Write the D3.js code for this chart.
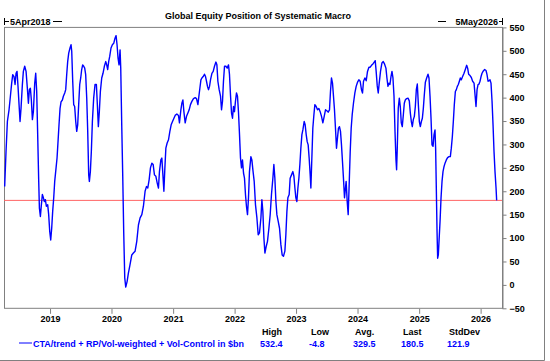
<!DOCTYPE html>
<html>
<head>
<meta charset="utf-8">
<script src="https://cdn.jsdelivr.net/npm/d3@7"></script>
<style>
body { margin: 0; background: #fff; }
text { font-family: "Liberation Sans", Arial, sans-serif; font-weight: bold; font-size: 9px; }
</style>
</head>
<body>
<div id="chart"></div>
<script>
var title = "Global Equity Position of Systematic Macro";
var startLabel = "5Apr2018", endLabel = "5May2026";
var seriesName = "CTA/trend + RP/Vol-weighted + Vol-Control in $bn";
var yTicks = [-50, 0, 50, 100, 150, 200, 250, 300, 350, 400, 450, 500, 550];
var xTickYears = [2019, 2020, 2021, 2022, 2023, 2024, 2025, 2026];
var statNames = ["High", "Low", "Avg.", "Last", "StdDev"];
var statValues = ["532.4", "-4.8", "329.5", "180.5", "121.9"];
var lastValue = 180.5;

// [decimal year, $bn]
var positionSeries = [
  [2018.262,210],[2018.284,285],[2018.306,349],[2018.333,374],[2018.349,395],[2018.376,431],[2018.393,449],[2018.414,445],
  [2018.431,428],[2018.447,452],[2018.463,456],[2018.479,424],[2018.496,385],[2018.512,349],[2018.528,377],[2018.550,428],
  [2018.566,456],[2018.588,467],[2018.610,456],[2018.631,420],[2018.648,388],[2018.664,417],[2018.680,420],[2018.696,395],
  [2018.713,353],[2018.729,370],[2018.751,431],[2018.767,452],[2018.783,413],[2018.799,321],[2018.816,221],[2018.827,164],
  [2018.843,146],[2018.859,171],[2018.875,193],[2018.892,186],[2018.908,178],[2018.924,182],[2018.940,168],[2018.962,171],
  [2018.978,150],[2018.995,114],[2019.011,96],[2019.027,121],[2019.043,157],[2019.060,186],[2019.076,221],[2019.098,250],
  [2019.114,271],[2019.130,306],[2019.146,342],[2019.163,377],[2019.179,391],[2019.201,395],[2019.217,403],[2019.239,410],
  [2019.255,417],[2019.271,449],[2019.287,477],[2019.304,495],[2019.325,506],[2019.342,513],[2019.353,499],[2019.369,435],
  [2019.385,385],[2019.401,381],[2019.418,349],[2019.434,328],[2019.450,342],[2019.466,385],[2019.483,428],[2019.499,442],
  [2019.515,460],[2019.531,470],[2019.548,467],[2019.564,463],[2019.580,449],[2019.597,399],[2019.613,328],[2019.629,235],
  [2019.640,221],[2019.656,242],[2019.672,285],[2019.689,349],[2019.710,399],[2019.732,428],[2019.754,428],[2019.770,385],
  [2019.786,338],[2019.802,370],[2019.819,413],[2019.841,442],[2019.862,452],[2019.884,467],[2019.906,477],[2019.922,470],
  [2019.938,460],[2019.954,477],[2019.971,488],[2019.992,506],[2020.014,513],[2020.036,516],[2020.057,527],[2020.074,532.4],
  [2020.090,513],[2020.106,485],[2020.122,470],[2020.139,502],[2020.150,463],[2020.166,342],[2020.182,235],[2020.198,114],
  [2020.215,15],[2020.231,-4.8],[2020.253,7],[2020.274,25],[2020.296,40],[2020.310,50],[2020.329,64],[2020.355,68],
  [2020.383,72],[2020.410,93],[2020.437,128],[2020.464,143],[2020.492,150],[2020.518,168],[2020.545,200],[2020.567,210],
  [2020.589,207],[2020.611,225],[2020.632,250],[2020.655,260],[2020.676,257],[2020.697,235],[2020.720,232],[2020.741,218],
  [2020.762,207],[2020.778,242],[2020.801,267],[2020.817,271],[2020.834,235],[2020.850,200],[2020.866,250],[2020.882,292],
  [2020.903,303],[2020.925,310],[2020.947,328],[2020.968,342],[2020.990,349],[2021.013,356],[2021.033,362],[2021.061,365],
  [2021.087,362],[2021.103,346],[2021.126,374],[2021.142,388],[2021.159,395],[2021.175,370],[2021.196,346],[2021.218,360],
  [2021.240,367],[2021.261,374],[2021.282,385],[2021.305,392],[2021.331,398],[2021.359,400],[2021.380,398],[2021.403,385],
  [2021.419,403],[2021.435,420],[2021.452,438],[2021.468,442],[2021.489,445],[2021.510,450],[2021.527,445],[2021.543,435],
  [2021.559,424],[2021.575,417],[2021.592,424],[2021.608,438],[2021.631,452],[2021.652,456],[2021.673,467],[2021.696,476],
  [2021.712,470],[2021.728,435],[2021.749,417],[2021.771,403],[2021.787,374],[2021.803,392],[2021.819,435],[2021.836,467],
  [2021.858,467],[2021.880,463],[2021.901,470],[2021.917,449],[2021.933,406],[2021.950,367],[2021.966,356],[2021.982,381],
  [2021.998,370],[2022.014,392],[2022.031,410],[2022.047,403],[2022.063,370],[2022.080,321],[2022.096,271],[2022.112,250],
  [2022.128,267],[2022.145,239],[2022.161,228],[2022.177,193],[2022.193,168],[2022.210,150],[2022.226,186],[2022.242,242],
  [2022.265,274],[2022.281,267],[2022.298,245],[2022.319,221],[2022.340,171],[2022.363,143],[2022.384,107],[2022.405,111],
  [2022.428,143],[2022.444,182],[2022.460,157],[2022.477,100],[2022.493,68],[2022.514,82],[2022.535,93],[2022.558,121],
  [2022.579,150],[2022.600,193],[2022.623,228],[2022.639,257],[2022.655,228],[2022.672,178],[2022.688,150],[2022.709,136],
  [2022.731,121],[2022.753,86],[2022.774,64],[2022.795,61],[2022.818,72],[2022.834,107],[2022.851,157],[2022.867,186],
  [2022.888,193],[2022.904,228],[2022.926,235],[2022.948,242],[2022.965,232],[2022.981,207],[2022.997,186],[2023.013,178],
  [2023.030,207],[2023.046,228],[2023.062,257],[2023.078,292],[2023.095,321],[2023.111,331],[2023.132,349],[2023.148,342],
  [2023.165,321],[2023.181,306],[2023.197,299],[2023.213,271],[2023.230,235],[2023.241,207],[2023.257,271],[2023.273,335],
  [2023.290,363],[2023.306,385],[2023.327,381],[2023.349,374],[2023.371,377],[2023.392,370],[2023.414,360],[2023.436,346],
  [2023.458,360],[2023.479,374],[2023.501,372],[2023.522,369],[2023.544,374],[2023.560,413],[2023.576,442],[2023.593,431],
  [2023.609,403],[2023.625,374],[2023.641,335],[2023.658,292],[2023.674,314],[2023.690,335],[2023.706,338],[2023.723,328],
  [2023.739,299],[2023.755,264],[2023.771,228],[2023.788,186],[2023.804,207],[2023.815,221],[2023.832,178],[2023.848,150],
  [2023.864,214],[2023.881,285],[2023.897,335],[2023.913,363],[2023.934,388],[2023.957,410],[2023.978,424],[2024.000,433],
  [2024.022,438],[2024.043,435],[2024.064,417],[2024.081,410],[2024.097,435],[2024.120,442],[2024.141,436],[2024.162,456],
  [2024.185,465],[2024.206,465],[2024.227,469],[2024.250,472],[2024.271,476],[2024.287,479],[2024.303,455],[2024.320,425],
  [2024.336,410],[2024.352,431],[2024.373,456],[2024.396,474],[2024.417,477],[2024.438,472],[2024.461,463],[2024.477,442],
  [2024.494,424],[2024.510,431],[2024.526,428],[2024.543,445],[2024.559,456],[2024.575,442],[2024.592,403],[2024.608,328],
  [2024.624,267],[2024.634,246],[2024.645,292],[2024.661,377],[2024.678,399],[2024.694,381],[2024.710,346],[2024.726,338],
  [2024.743,363],[2024.759,388],[2024.775,395],[2024.796,398],[2024.819,399],[2024.840,393],[2024.857,367],[2024.873,349],
  [2024.889,338],[2024.905,353],[2024.922,360],[2024.938,381],[2024.954,417],[2024.970,429],[2024.987,385],[2025.003,349],
  [2025.019,338],[2025.036,349],[2025.052,356],[2025.068,377],[2025.084,406],[2025.101,433],[2025.122,442],[2025.144,450],
  [2025.160,442],[2025.177,403],[2025.193,356],[2025.209,299],[2025.226,296],[2025.242,321],[2025.258,331],[2025.268,292],
  [2025.280,200],[2025.291,114],[2025.301,57],[2025.312,64],[2025.323,93],[2025.340,136],[2025.356,186],[2025.372,221],
  [2025.388,242],[2025.405,253],[2025.421,260],[2025.442,267],[2025.463,272],[2025.486,274],[2025.507,274],[2025.523,292],
  [2025.540,317],[2025.556,349],[2025.572,385],[2025.589,413],[2025.605,417],[2025.621,424],[2025.637,428],[2025.654,435],
  [2025.670,442],[2025.686,438],[2025.707,445],[2025.730,452],[2025.751,460],[2025.773,469],[2025.789,463],[2025.805,450],
  [2025.828,447],[2025.849,443],[2025.870,435],[2025.893,431],[2025.909,406],[2025.925,381],[2025.942,417],[2025.958,428],
  [2025.974,429],[2025.990,435],[2026.007,445],[2026.023,452],[2026.044,457],[2026.066,460],[2026.088,458],[2026.104,449],
  [2026.121,435],[2026.137,436],[2026.153,438],[2026.169,431],[2026.186,392],[2026.202,342],[2026.218,285],[2026.234,242],
  [2026.251,207],[2026.261,180.5]
];

function yearToDate(yv) {
  var yr = Math.floor(yv);
  var a = new Date(yr, 0, 1), b = new Date(yr + 1, 0, 1);
  return new Date(a.getTime() + (yv - yr) * (b - a));
}

var width = 550, height = 361;
var plotL = 4, plotR = 502, plotT = 27.4, plotB = 308.3;

var svg = d3.select('#chart').append('svg')
  .attr('width', width)
  .attr('height', height)
  .style('display', 'block');

var x = d3.scaleTime()
  .domain([new Date(2018, 3, 5), new Date(2026, 4, 5)])
  .range([plotL + 0.4, plotR - 0.5]);
var y = d3.scaleLinear()
  .domain([yTicks[0], yTicks[yTicks.length - 1]])
  .range([plotB, plotT]);

// outer frame edges (right + bottom)
svg.append('line').attr('x1', 544.5).attr('x2', 544.5).attr('y1', 0).attr('y2', 360.5)
  .attr('stroke', '#808080');
svg.append('line').attr('x1', 0).attr('x2', 544.5).attr('y1', 360.5).attr('y2', 360.5)
  .attr('stroke', '#808080');

// plot box
svg.append('rect')
  .attr('x', plotL + 0.5).attr('y', plotT)
  .attr('width', plotR - plotL).attr('height', plotB - plotT)
  .attr('fill', 'none').attr('stroke', '#808080');

// right axis
var yAxis = svg.append('g')
  .attr('transform', 'translate(' + (plotR + 0.5) + ',0)')
  .call(d3.axisRight(y).tickValues(yTicks).tickSize(4).tickSizeOuter(0).tickPadding(3));
yAxis.select('.domain').attr('stroke', '#808080');
yAxis.selectAll('.tick line').attr('stroke', '#808080');
yAxis.selectAll('text').attr('fill', '#000').attr('font-size', 9)
  .attr('font-family', '"Liberation Sans", Arial, sans-serif');

// bottom axis
var xAxis = svg.append('g')
  .attr('transform', 'translate(0,' + (plotB + 0.5) + ')')
  .call(d3.axisBottom(x)
    .tickValues(xTickYears.map(function(d) { return new Date(d, 0, 1); }))
    .tickFormat(d3.timeFormat('%Y'))
    .tickSize(5).tickSizeOuter(0).tickPadding(2));
xAxis.select('.domain').remove();
xAxis.selectAll('.tick line').attr('stroke', '#808080');
xAxis.selectAll('text').attr('fill', '#000').attr('font-size', 9)
  .attr('font-family', '"Liberation Sans", Arial, sans-serif');

// last value line
svg.append('line')
  .attr('x1', plotL).attr('x2', plotR)
  .attr('y1', y(lastValue)).attr('y2', y(lastValue))
  .attr('stroke', '#ff6464').attr('stroke-width', 1);

// series
var line = d3.line()
  .x(function(d) { return x(yearToDate(d[0])); })
  .y(function(d) { return y(d[1]); });
svg.append('path')
  .datum(positionSeries)
  .attr('d', line)
  .attr('fill', 'none')
  .attr('stroke', '#0000ff')
  .attr('stroke-width', 1.4)
  .attr('stroke-linejoin', 'round');

// title + date range
svg.append('text').attr('x', 258).attr('y', 19).attr('text-anchor', 'middle').text(title);

svg.append('path').attr('d', 'M' + (plotL + 0.5) + ',18V25M' + plotL + ',21.5H9M53,21.5H62')
  .attr('stroke', '#000').attr('fill', 'none');
svg.append('text').attr('x', 10).attr('y', 24.5).text(startLabel);
svg.append('path').attr('d', 'M' + (plotR + 0.5) + ',18V25M' + (plotR + 1) + ',21.5H499M446,21.5H438')
  .attr('stroke', '#000').attr('fill', 'none');
svg.append('text').attr('x', 498).attr('y', 24.5).attr('text-anchor', 'end').text(endLabel);

// legend
svg.append('line').attr('x1', 19).attr('x2', 32).attr('y1', 343).attr('y2', 343)
  .attr('stroke', '#0000ff').attr('stroke-width', 1);
svg.append('text').attr('x', 33).attr('y', 346.5).attr('fill', '#0000ff').text(seriesName);

// stats
var statX = [260, 309, 353, 401, 447];
statNames.forEach(function(s, i) {
  svg.append('text').attr('x', statX[i] + 2).attr('y', 335).attr('fill', '#000').text(s);
  svg.append('text').attr('x', statX[i]).attr('y', 346.5).attr('fill', '#0000ff').text(statValues[i]);
});
</script>
</body>
</html>
